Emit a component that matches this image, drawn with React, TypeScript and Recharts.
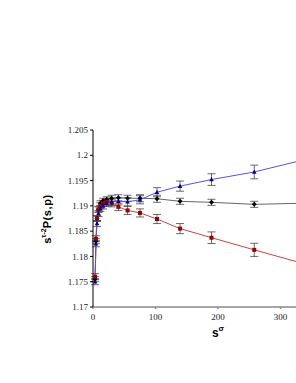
import React from 'react';
import { ComposedChart, Line, XAxis, YAxis, ErrorBar } from 'recharts';

// s^sigma values (x), last entry is the line extension end
const sSigma = [3.4, 4.7, 6.4, 8.7, 11.8, 16.1, 21.9, 29.8, 40.6, 55.3, 75.2, 102.4, 139.3, 189.6, 258, 400];

const blueVals = [1.175, 1.1825, 1.1865, 1.1885, 1.1895, 1.19, 1.1905, 1.1908, 1.1909, 1.1908, 1.1912, 1.1927, 1.1939, 1.1952, 1.1967, 1.201];
const blueErr = [0.0006, 0.0006, 0.0006, 0.0006, 0.0006, 0.0006, 0.0006, 0.0007, 0.0007, 0.0008, 0.0008, 0.0009, 0.001, 0.00115, 0.00135, 0];

const blackVals = [1.1755, 1.183, 1.1875, 1.1893, 1.1905, 1.191, 1.1913, 1.1915, 1.1916, 1.1915, 1.1915, 1.1914, 1.1909, 1.1907, 1.1903, 1.1907];
const blackErr = [0.0005, 0.0005, 0.0005, 0.0005, 0.0005, 0.0005, 0.0005, 0.0006, 0.0006, 0.0006, 0.0007, 0.0007, 0.0006, 0.0006, 0.0006, 0];

const redVals = [1.176, 1.1835, 1.1875, 1.1893, 1.19, 1.1905, 1.1908, 1.1905, 1.1898, 1.1891, 1.1886, 1.1874, 1.1855, 1.1837, 1.1813, 1.1764];
const redErr = [0.0006, 0.0006, 0.0006, 0.0006, 0.0006, 0.0006, 0.0006, 0.0007, 0.0007, 0.0008, 0.0008, 0.0009, 0.001, 0.00115, 0.0013, 0];

const xTicks = [0, 100, 200, 300];
const yTicks = [1.17, 1.175, 1.18, 1.185, 1.19, 1.195, 1.2, 1.205];

const build = (vals: number[], errs: number[]) =>
  sSigma.map((x, i) => ({ x, y: vals[i], e: errs[i] }));

const blueData = build(blueVals, blueErr);
const blackData = build(blackVals, blackErr);
const redData = build(redVals, redErr);

const Square = (color: string) => (props: any) => {
  const { cx, cy, index } = props;
  if (cx == null || cy == null) return <g key={index} />;
  return <rect key={index} x={cx - 2} y={cy - 2} width={4} height={4} fill={color} />;
};
const Triangle = (color: string) => (props: any) => {
  const { cx, cy, index } = props;
  if (cx == null || cy == null) return <g key={index} />;
  return <path key={index} d={`M${cx},${cy - 2.5} L${cx + 2.3},${cy + 1.8} L${cx - 2.3},${cy + 1.8} Z`} fill={color} />;
};
const Diamond = (color: string) => (props: any) => {
  const { cx, cy, index } = props;
  if (cx == null || cy == null) return <g key={index} />;
  return <path key={index} d={`M${cx},${cy - 2.5} L${cx + 2.5},${cy} L${cx},${cy + 2.5} L${cx - 2.5},${cy} Z`} fill={color} />;
};

const tickFont = { fontFamily: 'Liberation Serif', fontSize: 9, fill: '#222' };

export default function App() {
  return (
    <div style={{ position: 'absolute', left: 0, top: 0, width: 296, height: 383, overflow: 'hidden', background: '#fff' }}>
      <ComposedChart
        width={360}
        height={383}
        margin={{ top: 130, right: 17, left: 0, bottom: 46 }}
      >
        <XAxis
          xAxisId="b"
          type="number"
          dataKey="x"
          domain={[0, 400]}
          ticks={xTicks}
          allowDataOverflow
          height={30}
          stroke="#888"
          strokeWidth={1.5}
          tickSize={2}
          tickMargin={5}
          tick={tickFont}
        />
        <XAxis
          xAxisId="t"
          orientation="top"
          type="number"
          dataKey="x"
          domain={[0, 400]}
          ticks={[100, 200, 300]}
          allowDataOverflow
          height={0}
          mirror
          stroke="#222"
          strokeWidth={1}
          tickSize={3}
          tick={false}
        />
        <YAxis
          yAxisId="l"
          type="number"
          domain={[1.17, 1.205]}
          ticks={yTicks}
          allowDataOverflow
          width={93}
          stroke="#000"
          tickSize={3}
          tickMargin={2}
          tick={tickFont}
        />
        <Line
          xAxisId="b"
          yAxisId="l"
          data={blackData}
          dataKey="y"
          type="linear"
          stroke="#666"
          strokeWidth={1}
          dot={Diamond('#000')}
          isAnimationActive={false}
        >
          <ErrorBar dataKey="e" direction="y" width={4} stroke="#444" strokeWidth={0.8} />
        </Line>
        <Line
          xAxisId="b"
          yAxisId="l"
          data={redData}
          dataKey="y"
          type="linear"
          stroke="#cc4444"
          strokeWidth={1}
          dot={Square('#990000')}
          isAnimationActive={false}
        >
          <ErrorBar dataKey="e" direction="y" width={4} stroke="#444" strokeWidth={0.8} />
        </Line>
        <Line
          xAxisId="b"
          yAxisId="l"
          data={blueData}
          dataKey="y"
          type="linear"
          stroke="#5555dd"
          strokeWidth={1}
          dot={Triangle('#000099')}
          isAnimationActive={false}
        >
          <ErrorBar dataKey="e" direction="y" width={4} stroke="#444" strokeWidth={0.8} />
        </Line>
      </ComposedChart>
      <svg width={296} height={383} style={{ position: 'absolute', left: 0, top: 0, pointerEvents: 'none' }}>
        <text
          transform="translate(51,219) rotate(-90)"
          textAnchor="middle"
          fontFamily="Liberation Sans"
          fontWeight="bold"
          fontSize={11}
          fill="#000"
        >
          s<tspan fontSize={7} dy={-5}>τ-2</tspan><tspan dy={5} letterSpacing={0.6}>P(s,p)</tspan>
        </text>
        <text x={218} y={337} textAnchor="middle" fontFamily="Liberation Sans" fontWeight="bold" fontSize={12} fill="#000">
          s<tspan fontSize={8} dy={-6}>σ</tspan>
        </text>
      </svg>
    </div>
  );
}
